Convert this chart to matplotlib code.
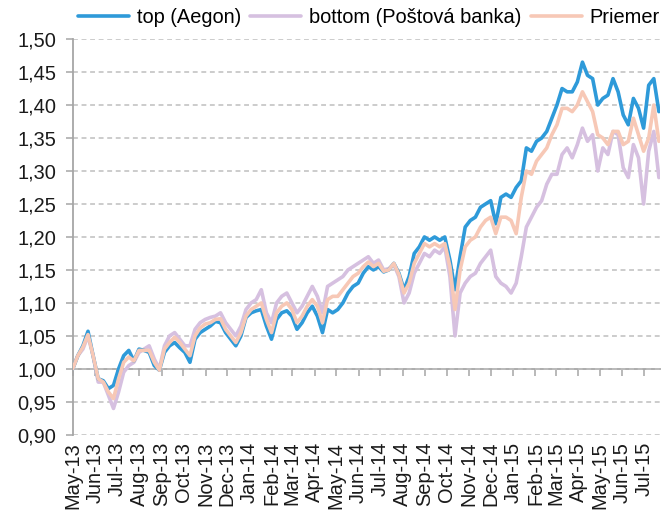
import matplotlib
matplotlib.use("Agg")
import matplotlib.pyplot as plt
import matplotlib.dates as mdates
import pandas as pd
from matplotlib.ticker import FixedLocator, FuncFormatter

plt.rcParams['font.family'] = ['Liberation Sans', 'DejaVu Sans']

# ---- data (roughly weekly) ----
start_date = "2013-05-01"
end_date = "2015-07-22"

top_aegon = [
    1.000, 1.020, 1.035, 1.057, 1.020, 0.985, 0.982, 0.970, 0.975, 1.000,
    1.020, 1.028, 1.012, 1.030, 1.028, 1.025, 1.005, 0.998, 1.025, 1.035,
    1.040, 1.032, 1.025, 1.010, 1.045, 1.055, 1.060, 1.065, 1.072, 1.070,
    1.055, 1.045, 1.035, 1.050, 1.078, 1.085, 1.088, 1.090, 1.065, 1.045,
    1.075, 1.085, 1.088, 1.080, 1.060, 1.070, 1.085, 1.095, 1.080, 1.055,
    1.090, 1.085, 1.090, 1.100, 1.115, 1.125, 1.130, 1.145, 1.155, 1.150,
    1.155, 1.147, 1.150, 1.160, 1.145, 1.120, 1.140, 1.175, 1.185, 1.200,
    1.195, 1.200, 1.195, 1.200, 1.165, 1.120, 1.170, 1.215, 1.225, 1.230,
    1.245, 1.250, 1.255, 1.220, 1.260, 1.265, 1.260, 1.275, 1.285, 1.335,
    1.330, 1.345, 1.350, 1.360, 1.380, 1.400, 1.425, 1.420, 1.420, 1.435,
    1.465, 1.445, 1.440, 1.400, 1.410, 1.415, 1.440, 1.420, 1.385, 1.370,
    1.410, 1.395, 1.365, 1.430, 1.440, 1.390,
]

bottom_postova = [
    1.000, 1.020, 1.030, 1.050, 1.020, 0.980, 0.980, 0.960, 0.940, 0.965,
    0.995, 1.005, 1.010, 1.025, 1.030, 1.035, 1.015, 1.000, 1.035, 1.050,
    1.055, 1.045, 1.035, 1.035, 1.060, 1.070, 1.075, 1.078, 1.080, 1.085,
    1.070, 1.060, 1.050, 1.065, 1.090, 1.100, 1.105, 1.120, 1.085, 1.070,
    1.100, 1.110, 1.115, 1.100, 1.085, 1.095, 1.110, 1.125, 1.110, 1.085,
    1.125, 1.130, 1.135, 1.140, 1.150, 1.155, 1.160, 1.165, 1.170, 1.160,
    1.165, 1.150, 1.152, 1.158, 1.140, 1.100, 1.115, 1.145, 1.160, 1.175,
    1.170, 1.180, 1.175, 1.185, 1.140, 1.050, 1.115, 1.130, 1.140, 1.145,
    1.160, 1.170, 1.180, 1.140, 1.130, 1.125, 1.115, 1.130, 1.170, 1.215,
    1.230, 1.245, 1.255, 1.280, 1.295, 1.295, 1.325, 1.335, 1.320, 1.340,
    1.365, 1.345, 1.355, 1.300, 1.335, 1.325, 1.360, 1.355, 1.305, 1.290,
    1.340, 1.320, 1.250, 1.330, 1.360, 1.290,
]

priemer = [
    1.000, 1.020, 1.033, 1.052, 1.020, 0.985, 0.980, 0.965, 0.955, 0.985,
    1.010, 1.018, 1.012, 1.028, 1.028, 1.028, 1.010, 0.998, 1.030, 1.040,
    1.048, 1.040, 1.030, 1.020, 1.050, 1.062, 1.068, 1.070, 1.075, 1.076,
    1.060, 1.050, 1.040, 1.055, 1.080, 1.090, 1.095, 1.100, 1.075, 1.055,
    1.085, 1.095, 1.100, 1.090, 1.070, 1.080, 1.095, 1.105, 1.095, 1.070,
    1.105, 1.110, 1.110, 1.120, 1.130, 1.140, 1.145, 1.155, 1.162, 1.155,
    1.160, 1.148, 1.150, 1.160, 1.143, 1.115, 1.130, 1.160, 1.175, 1.190,
    1.185, 1.190, 1.185, 1.190, 1.155, 1.090, 1.150, 1.185, 1.195, 1.200,
    1.215, 1.225, 1.230, 1.205, 1.230, 1.230, 1.225, 1.205, 1.260, 1.300,
    1.295, 1.315, 1.325, 1.335, 1.355, 1.370, 1.395, 1.395, 1.390, 1.400,
    1.420, 1.405, 1.390, 1.355, 1.350, 1.340, 1.360, 1.360, 1.340, 1.345,
    1.380, 1.355, 1.330, 1.350, 1.400, 1.345,
]

labels = ["top (Aegon)", "bottom (Poštová banka)", "Priemer"]
colors = ["#2E9AD9", "#D6C0E0", "#F7C8B6"]
y_ticks = [0.90, 0.95, 1.00, 1.05, 1.10, 1.15, 1.20, 1.25, 1.30, 1.35, 1.40, 1.45, 1.50]

dates = pd.date_range(start_date, end_date, periods=len(top_aegon))

# ---- figure ----
fig = plt.figure(figsize=(6.61, 5.14), dpi=100)
ax = fig.add_axes([0.110, 0.154, 0.889, 0.770])

series = [top_aegon, bottom_postova, priemer]
zorders = [3, 2, 4]
lines = []
for vals, lab, col, z in zip(series, labels, colors, zorders):
    ln, = ax.plot(dates, vals, color=col, lw=2.6, label=lab, zorder=z,
                  solid_joinstyle='round', solid_capstyle='round')
    lines.append(ln)

ax.set_ylim(0.90, 1.50)
ax.set_xlim(pd.Timestamp("2013-05-01"), pd.Timestamp("2015-07-24"))

gray = "#A6A6A6"
ax.yaxis.set_major_locator(FixedLocator(y_ticks))
ax.yaxis.set_major_formatter(FuncFormatter(lambda v, p: f"{v:.2f}".replace(".", ",")))
ax.yaxis.grid(True, linestyle=(0, (3.2, 2.4)), color="#BFBFBF", lw=1.1, zorder=0)
ax.set_axisbelow(True)

for s in ["top", "right", "bottom"]:
    ax.spines[s].set_visible(False)
ax.spines["left"].set_color(gray)
ax.spines["left"].set_linewidth(1.3)

ax.tick_params(axis="y", direction="out", length=5, width=1.1, color=gray,
               labelsize=14.4, pad=7, labelcolor="#1a1a1a")

ax.xaxis.set_major_locator(mdates.MonthLocator())
ax.xaxis.set_major_formatter(mdates.DateFormatter("%b-%y"))
ax.tick_params(axis="x", length=0, labelsize=14.4, pad=5, labelrotation=90,
               labelcolor="#1a1a1a")

# horizontal axis line crossing at 1.00
sec = ax.secondary_xaxis((1.00 - 0.90) / (1.50 - 0.90))
sec.xaxis.set_major_locator(mdates.MonthLocator())
sec.tick_params(axis="x", direction="out", length=5, width=1.1, color=gray,
                labelbottom=False, labeltop=False, bottom=True, top=False)
for s in sec.spines.values():
    s.set_color(gray)
    s.set_linewidth(1.3)

leg = fig.legend(handles=lines, labels=labels, loc="center left",
                 bbox_to_anchor=(0.118, 0.965), ncol=3, frameon=False,
                 fontsize=14.4, handlelength=2.55, handletextpad=0.4,
                 columnspacing=0.45, borderpad=0, borderaxespad=0)
for h in leg.get_lines():
    h.set_linewidth(2.6)

fig.savefig("out.png", dpi=100)
